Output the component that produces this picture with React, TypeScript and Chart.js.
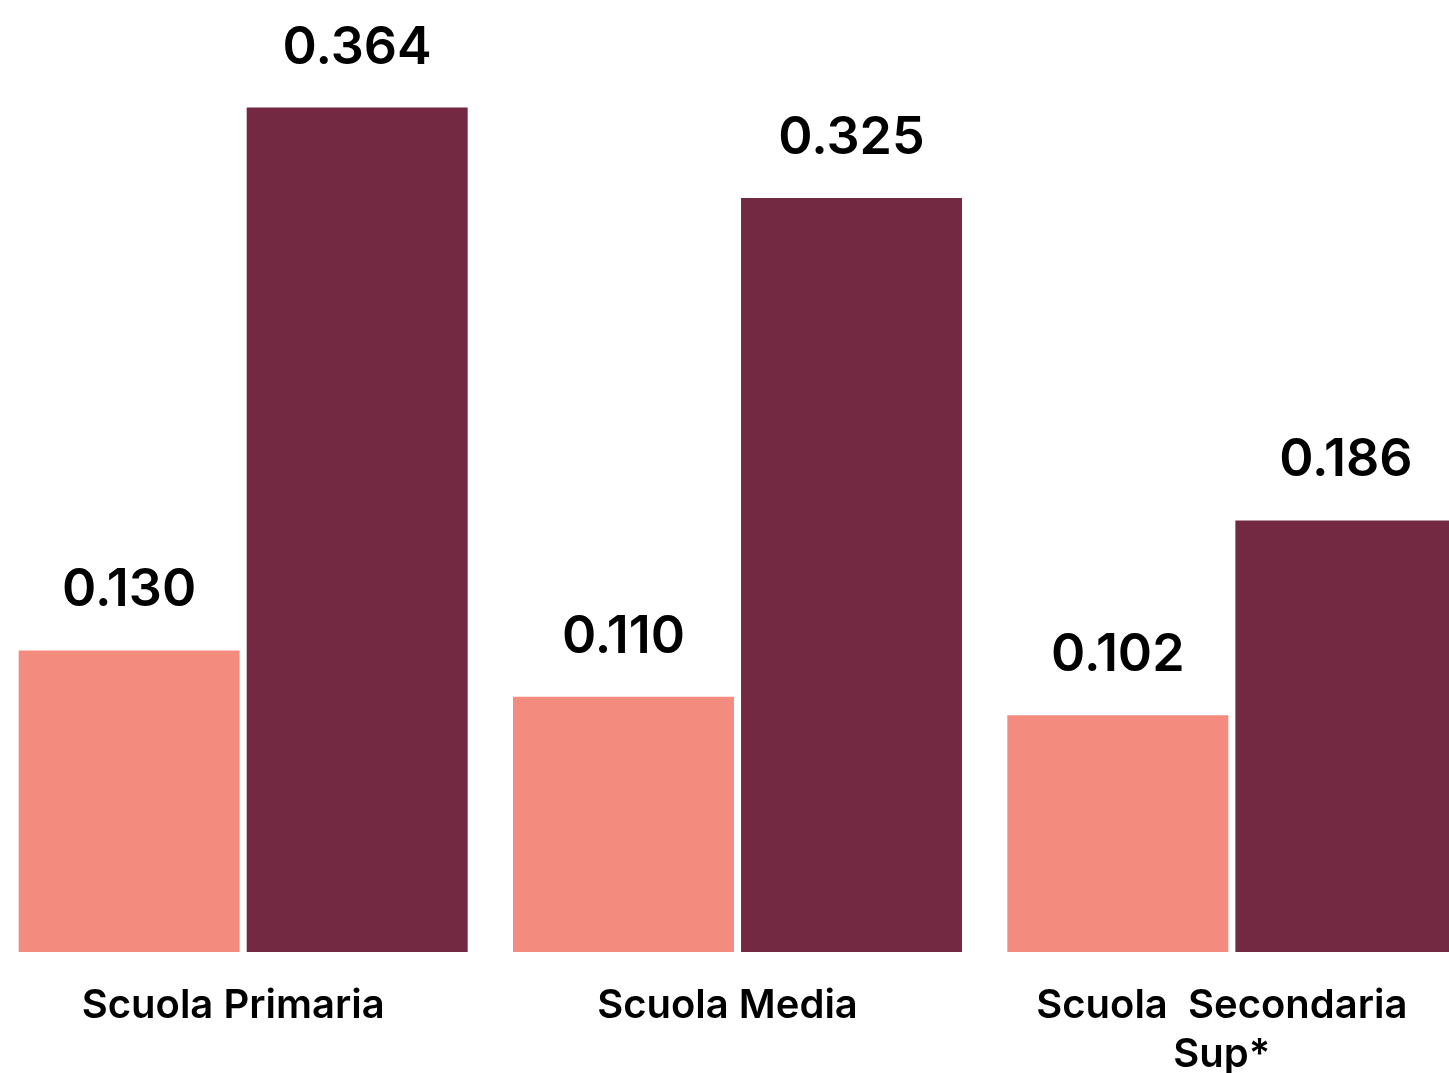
import React, { useEffect, useRef } from "react";
import { Chart, registerables } from "chart.js";

Chart.register(...registerables);

const categories: (string | string[])[] = [
  "Scuola Primaria",
  "Scuola Media",
  ["Scuola  Secondaria", "Sup*"],
];
const seriesA = [0.13, 0.11, 0.102];
const seriesB = [0.364, 0.325, 0.186];
const colorA = "#F38B7E";
const colorB = "#732942";

const FONT = "Inter, 'Noto Sans', sans-serif";

const valueLabels = {
  id: "valueLabels",
  afterDatasetsDraw(chart: any) {
    const ctx = chart.ctx;
    ctx.save();
    ctx.fillStyle = "#000";
    ctx.font = `600 52px ${FONT}`;
    ctx.textAlign = "center";
    ctx.textBaseline = "alphabetic";
    chart.data.datasets.forEach((ds: any, i: number) => {
      const meta = chart.getDatasetMeta(i);
      meta.data.forEach((bar: any, j: number) => {
        const v = ds.data[j] as number;
        ctx.fillText(v.toFixed(3), bar.x, bar.y - 44);
      });
    });
    ctx.restore();
  },
};

export default function App() {
  const ref = useRef<HTMLCanvasElement | null>(null);
  useEffect(() => {
    document.body.style.margin = "0";
    const canvas = ref.current!;
    const chart = new Chart(canvas, {
      type: "bar",
      data: {
        labels: categories,
        datasets: [
          {
            data: seriesA,
            backgroundColor: colorA,
            barPercentage: 0.969,
            categoryPercentage: 0.9226,
          },
          {
            data: seriesB,
            backgroundColor: colorB,
            barPercentage: 0.969,
            categoryPercentage: 0.9226,
          },
        ],
      },
      options: {
        animation: false,
        responsive: false,
        devicePixelRatio: 1,
        layout: { padding: { top: 24, left: 0, right: 0, bottom: 0 } },
        plugins: {
          legend: { display: false },
          tooltip: { enabled: false },
        },
        scales: {
          x: {
            grid: { display: false },
            border: { display: false },
            ticks: {
              color: "#000",
              font: { family: FONT, size: 40, weight: "600", lineHeight: 1.22 },
              padding: 22,
              labelOffset: -10,
              maxRotation: 0,
              minRotation: 0,
              autoSkip: false,
            },
            afterFit: (scale: any) => {
              scale.height = 121;
            },
          },
          y: {
            display: false,
            min: 0,
            max: 0.4,
          },
        },
      },
      plugins: [valueLabels],
    });
    return () => chart.destroy();
  }, []);
  return (
    <div
      style={{
        position: "absolute",
        top: 0,
        left: 0,
        width: 1449,
        height: 1073,
        overflow: "hidden",
        background: "#fff",
      }}
    >
      <canvas
        ref={ref}
        width={1483}
        height={1073}
        style={{ position: "absolute", left: -4, top: 0 }}
      />
    </div>
  );
}
